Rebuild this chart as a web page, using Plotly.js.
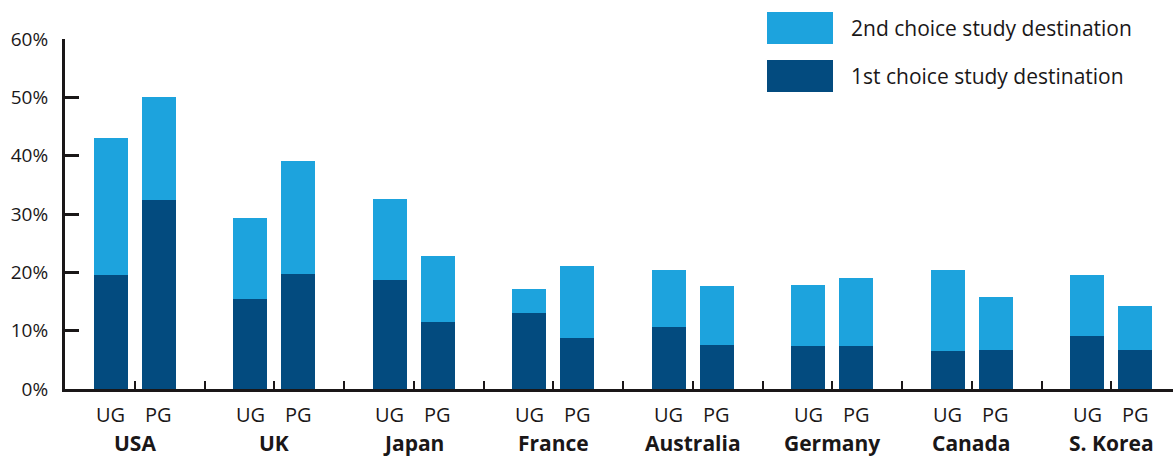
<!DOCTYPE html>
<html>
<head>
<meta charset="utf-8">
<script src="https://cdn.plot.ly/plotly-3.0.1.min.js"></script>
<style>
  html, body { margin: 0; padding: 0; background: #ffffff; }
  #chart { width: 1173px; height: 459px; }
</style>
</head>
<body>
<div id="chart"></div>
<script>
// Study destinations, undergraduate (UG) and postgraduate (PG) respondents
const countries = ['USA', 'UK', 'Japan', 'France', 'Australia', 'Germany', 'Canada', 'S. Korea'];
const levels = ['UG', 'PG'];

// 1st choice study destination (%)
const firstUG = [19.5, 15.4, 18.7, 13.0, 10.6, 7.4, 6.5, 9.1];
const firstPG = [32.4, 19.7, 11.5, 8.7, 7.5, 7.4, 6.7, 6.7];

// 2nd choice study destination (%), stacked on top of the 1st choice
const secondUG = [23.5, 13.9, 13.9, 4.1, 9.8, 10.4, 13.9, 10.4];
const secondPG = [17.7, 19.4, 11.3, 12.4, 10.2, 11.6, 9.1, 7.5];

const yTicks = [0, 10, 20, 30, 40, 50, 60];

const LIGHT = '#1da3dd';
const DARK = '#034b7f';
const INK = '#1a1718';
const FONT = 'Open Sans, sans-serif';

// Each country occupies two axis units; the UG/PG pair sits either side of an odd tick.
const offset = 0.345;
const xs = [], lv = [], first = [], second = [];
countries.forEach((c, i) => {
  const mid = 2 * i + 1;
  xs.push(mid - offset, mid + offset);
  lv.push(levels[0], levels[1]);
  first.push(firstUG[i], firstPG[i]);
  second.push(secondUG[i], secondPG[i]);
});

const traces = [
  { type: 'bar', name: '1st choice study destination', x: xs, y: first,
    width: 0.49, marker: { color: DARK }, hoverinfo: 'skip', showlegend: false },
  { type: 'bar', name: '2nd choice study destination', x: xs, y: second,
    width: 0.49, marker: { color: LIGHT }, hoverinfo: 'skip', showlegend: false }
];

// Page geometry helpers (plot area in pixels)
const W = 1173, H = 459;
const M = { l: 65, r: 0, t: 39, b: 70 };
const pw = W - M.l - M.r, ph = H - M.t - M.b;
const px = x => (x - M.l) / pw;
const py = y => (H - M.b - y) / ph;

const annotations = [];
xs.forEach((x, k) => {
  annotations.push({ x: x, xref: 'x', y: py(414), yref: 'paper', text: lv[k],
    showarrow: false, xanchor: 'center', yanchor: 'middle',
    font: { family: FONT, size: 20, color: INK } });
});
countries.forEach((c, i) => {
  annotations.push({ x: 2 * i + 1, xref: 'x', y: py(443), yref: 'paper', text: '<b>' + c + '</b>',
    showarrow: false, xanchor: 'center', yanchor: 'middle',
    font: { family: FONT, size: 21, color: INK } });
});

// Legend drawn as swatches with labels
const legendItems = [
  { label: '2nd choice study destination', color: LIGHT, top: 12, bottom: 44 },
  { label: '1st choice study destination', color: DARK, top: 60, bottom: 92 }
];
const shapes = [];
legendItems.forEach(it => {
  shapes.push({ type: 'rect', xref: 'paper', yref: 'paper',
    x0: px(767), x1: px(833), y0: py(it.bottom), y1: py(it.top),
    fillcolor: it.color, line: { width: 0 } });
  annotations.push({ x: px(849), xref: 'paper', y: py((it.top + it.bottom) / 2), yref: 'paper',
    text: it.label, showarrow: false, xanchor: 'left', yanchor: 'middle',
    font: { family: FONT, size: 21, color: INK } });
});

const layout = {
  width: W, height: H,
  margin: M,
  paper_bgcolor: '#ffffff', plot_bgcolor: '#ffffff',
  barmode: 'stack',
  bargap: 0,
  showlegend: false,
  xaxis: {
    range: [0, pw / 69.75],
    tickvals: Array.from({ length: 15 }, (_, i) => i + 1),
    showticklabels: false,
    ticks: 'inside', ticklen: 8, tickwidth: 2, tickcolor: INK,
    showline: true, linewidth: 3, linecolor: INK,
    showgrid: false, zeroline: false, fixedrange: true
  },
  yaxis: {
    range: [0, 60],
    tickvals: yTicks,
    ticktext: yTicks.map(v => v + '%'),
    ticks: 'inside', ticklen: 14, tickwidth: 3, tickcolor: INK,
    showline: true, linewidth: 3, linecolor: INK,
    showgrid: false, zeroline: false, fixedrange: true,
    tickfont: { family: FONT, size: 19, color: INK },
    ticklabelstandoff: 10
  },
  shapes: shapes,
  annotations: annotations
};

Plotly.newPlot('chart', traces, layout, { displayModeBar: false, staticPlot: true });
</script>
</body>
</html>
